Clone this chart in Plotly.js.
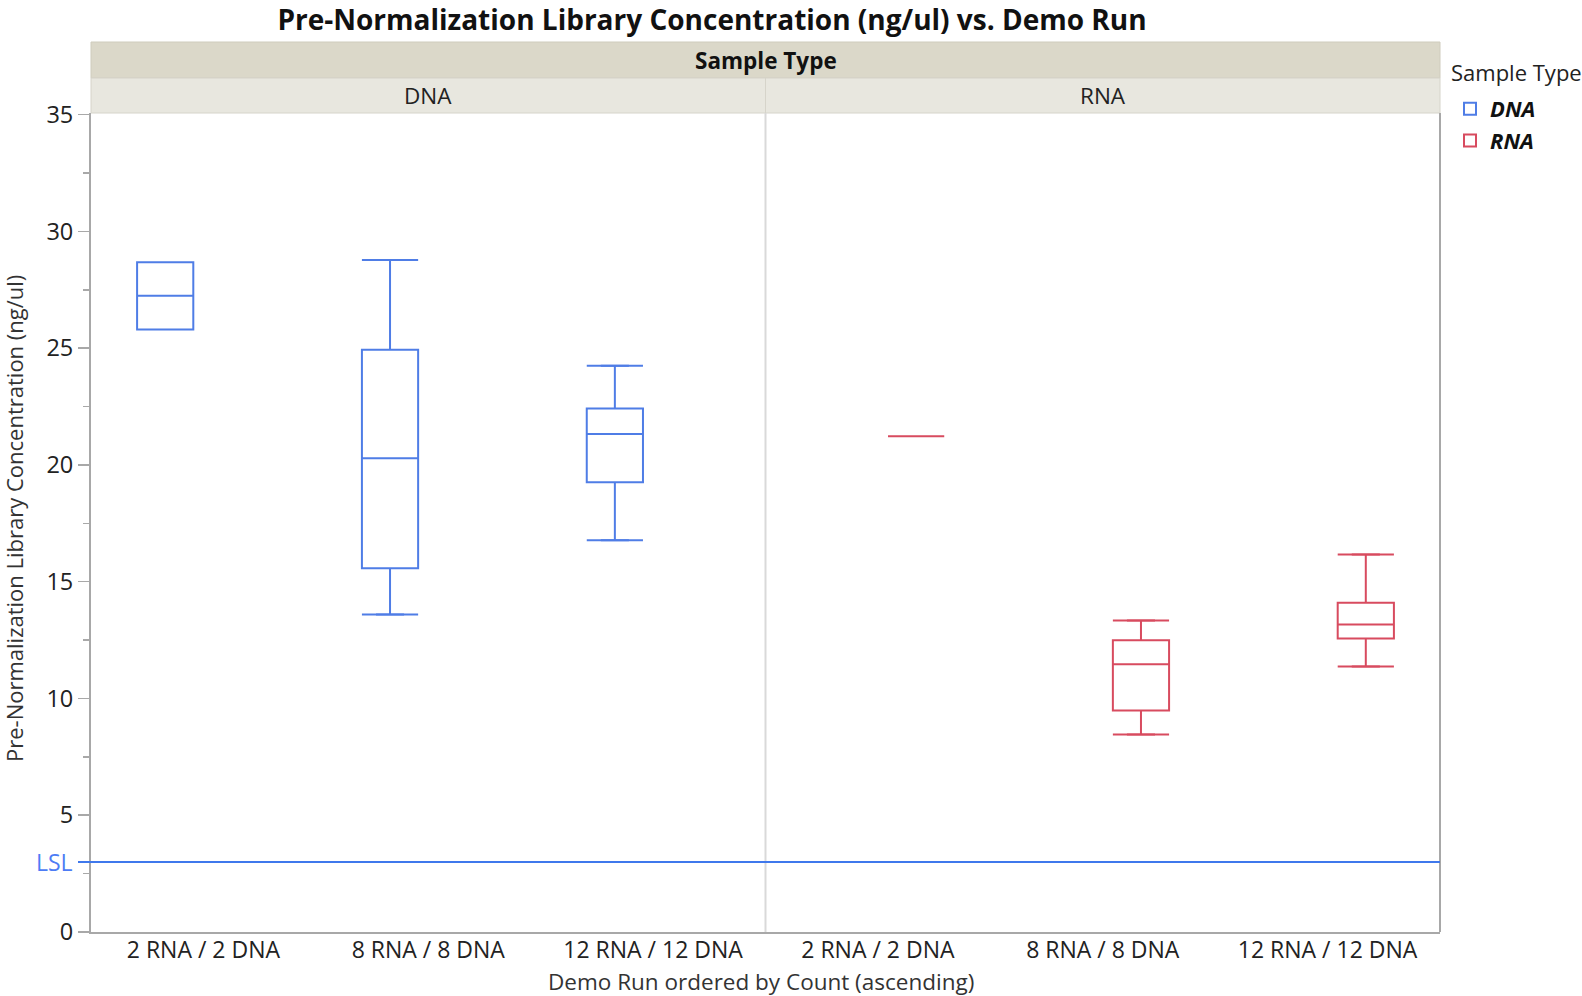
<!DOCTYPE html>
<html><head><meta charset="utf-8">
<script src="https://cdn.plot.ly/plotly-3.0.1.min.js"></script>
<style>html,body{margin:0;padding:0;background:#fff;} #chart{width:1582px;height:996px;}</style>
</head><body><div id="chart"></div>
<script>
// ---- data ----
const runs = ["2 RNA / 2 DNA", "8 RNA / 8 DNA", "12 RNA / 12 DNA"];
const dnaLower  = [25.80, 13.60, 16.77];
const dnaQ1     = [25.80, 15.58, 19.26];
const dnaMedian = [27.24, 20.29, 21.32];
const dnaQ3     = [28.68, 24.93, 22.42];
const dnaUpper  = [28.68, 28.78, 24.25];
const rnaLower  = [21.23, 8.46, 11.37];
const rnaQ1     = [21.23, 9.49, 12.57];
const rnaMedian = [21.23, 11.46, 13.17];
const rnaQ3     = [21.23, 12.49, 14.10];
const rnaUpper  = [21.23, 13.34, 16.17];
const lsl = 3;
const yTickVals = [0, 5, 10, 15, 20, 25, 30, 35];

// ---- style constants ----
const blue = '#4f7de6', red = '#d84b5f';
const FONT = 'Open Sans, Noto Sans, sans-serif';
const BOXW = 0.25, DODGE = 0.17;
const W = 1582, H = 996, L = 91, R = 142, T = 113, B = 64;
const PW = W - L - R, PH = H - T - B;
const px2x = p => (p - L) / PW;
const px2y = p => (H - B - p) / PH;

function pos(off) { return runs.map((_, i) => i + off); }
function caps(xs, q1, q3, lo, up) {
  const cx = [], cy = [];
  xs.forEach((x, i) => {
    if (up[i] > q3[i]) { cx.push(x - BOXW / 2, x + BOXW / 2, null); cy.push(up[i], up[i], null); }
    if (lo[i] < q1[i]) { cx.push(x - BOXW / 2, x + BOXW / 2, null); cy.push(lo[i], lo[i], null); }
  });
  return {x: cx, y: cy};
}
const dnaX = pos(-DODGE), rnaX = pos(DODGE);
const dnaCaps = caps(dnaX, dnaQ1, dnaQ3, dnaLower, dnaUpper);
const rnaCaps = caps(rnaX, rnaQ1, rnaQ3, rnaLower, rnaUpper);

const traces = [
  {type: 'box', name: 'DNA', xaxis: 'x', yaxis: 'y', x: dnaX,
   q1: dnaQ1, median: dnaMedian, q3: dnaQ3, lowerfence: dnaLower, upperfence: dnaUpper,
   width: BOXW, boxpoints: false, line: {color: blue, width: 2}, fillcolor: 'rgba(255,255,255,0)',
   hoverinfo: 'y'},
  {type: 'box', name: 'RNA', xaxis: 'x2', yaxis: 'y', x: rnaX,
   q1: rnaQ1, median: rnaMedian, q3: rnaQ3, lowerfence: rnaLower, upperfence: rnaUpper,
   width: BOXW, boxpoints: false, line: {color: red, width: 2}, fillcolor: 'rgba(255,255,255,0)',
   hoverinfo: 'y'},
  {type: 'scatter', mode: 'lines', xaxis: 'x', yaxis: 'y', x: dnaCaps.x, y: dnaCaps.y,
   line: {color: blue, width: 2}, showlegend: false, hoverinfo: 'skip'},
  {type: 'scatter', mode: 'lines', xaxis: 'x2', yaxis: 'y', x: rnaCaps.x, y: rnaCaps.y,
   line: {color: red, width: 2}, showlegend: false, hoverinfo: 'skip'}
];

const axisLine = '#a8a8a8';
const xCommon = {
  range: [-0.5, 2.5], tickvals: runs.map((_, i) => i), ticktext: runs,
  showline: true, linecolor: axisLine, linewidth: 2, ticks: '', showgrid: false, zeroline: false,
  ticklabelstandoff: -4,
  tickfont: {family: FONT, size: 23, color: '#222'}, fixedrange: true
};

const stripTop = px2y(42), stripMid = px2y(78), stripBot = 1;
const shapes = [
  {type: 'rect', xref: 'paper', yref: 'paper', x0: 0, x1: 1, y0: stripMid, y1: stripTop,
   fillcolor: '#dbd8c9', line: {color: '#cfccbd', width: 1}, layer: 'below'},
  {type: 'rect', xref: 'paper', yref: 'paper', x0: 0, x1: 0.5, y0: stripBot, y1: stripMid,
   fillcolor: '#e8e7df', line: {color: '#d6d4ca', width: 1}, layer: 'below'},
  {type: 'rect', xref: 'paper', yref: 'paper', x0: 0.5, x1: 1, y0: stripBot, y1: stripMid,
   fillcolor: '#e8e7df', line: {color: '#d6d4ca', width: 1}, layer: 'below'},
  {type: 'line', xref: 'paper', yref: 'paper', x0: 0.5, x1: 0.5, y0: 0, y1: 1,
   line: {color: '#d9d9d9', width: 2}},
  {type: 'line', xref: 'paper', yref: 'paper', x0: 1, x1: 1, y0: 0, y1: 1,
   line: {color: axisLine, width: 2}},
  {type: 'line', xref: 'paper', yref: 'y', x0: px2x(78), x1: 1, y0: lsl, y1: lsl,
   line: {color: '#3f78ec', width: 2}}
];

const annotations = [
  {text: '<b>Sample Type</b>', xref: 'paper', yref: 'paper', x: 0.5, y: (stripTop + stripMid) / 2,
   showarrow: false, font: {family: FONT, size: 22.5, color: '#111'}, xanchor: 'center', yanchor: 'middle'},
  {text: 'DNA', xref: 'paper', yref: 'paper', x: 0.25, y: (stripMid + stripBot) / 2,
   showarrow: false, font: {family: FONT, size: 22.5, color: '#222'}, xanchor: 'center', yanchor: 'middle'},
  {text: 'RNA', xref: 'paper', yref: 'paper', x: 0.75, y: (stripMid + stripBot) / 2,
   showarrow: false, font: {family: FONT, size: 22.5, color: '#222'}, xanchor: 'center', yanchor: 'middle'},
  {text: 'LSL', xref: 'paper', yref: 'y', x: px2x(75), y: lsl, xanchor: 'right', yanchor: 'middle',
   showarrow: false, font: {family: FONT, size: 23, color: '#4d7cf5'}},
  {text: 'Pre-Normalization Library Concentration (ng/ul)', xref: 'paper', yref: 'paper',
   x: px2x(14), y: px2y(519), textangle: -90, xanchor: 'center', yanchor: 'middle',
   showarrow: false, font: {family: FONT, size: 22, color: '#333'}},
  {text: 'Demo Run ordered by Count (ascending)', xref: 'paper', yref: 'paper',
   x: px2x(761), y: px2y(981), xanchor: 'center', yanchor: 'middle',
   showarrow: false, font: {family: FONT, size: 22.5, color: '#333'}},
  {text: 'Sample Type', xref: 'paper', yref: 'paper', x: px2x(1449), y: px2y(72),
   xanchor: 'left', yanchor: 'middle', showarrow: false,
   font: {family: FONT, size: 22, color: '#222'}}
];

const layout = {
  width: W, height: H, margin: {l: L, r: R, t: T, b: B, autoexpand: false},
  paper_bgcolor: '#fff', plot_bgcolor: '#fff',
  title: {text: '<b>Pre-Normalization Library Concentration (ng/ul) vs. Demo Run</b>',
          xref: 'container', yref: 'container', x: 712 / W, xanchor: 'center',
          y: 1 - 20 / H, yanchor: 'middle', font: {family: FONT, size: 28, color: '#111'}},
  xaxis: Object.assign({}, xCommon, {domain: [0, 0.5], anchor: 'y', automargin: false}),
  xaxis2: Object.assign({}, xCommon, {domain: [0.5, 1], anchor: 'y', automargin: false}),
  yaxis: {range: [0, 35.07], tickvals: yTickVals, showline: true, linecolor: axisLine, linewidth: 2,
          ticks: 'outside', ticklen: 11, tickwidth: 1.5, tickcolor: axisLine, automargin: false,
          minor: {dtick: 2.5, ticks: 'outside', ticklen: 6, tickwidth: 1.5, tickcolor: axisLine},
          showgrid: false, zeroline: false, fixedrange: true,
          tickfont: {family: FONT, size: 23.5, color: '#222'}},
  showlegend: true,
  legend: {x: 1 + 10 / PW, xanchor: 'left', y: px2y(88), yanchor: 'top',
           font: {family: FONT, size: 22, color: '#111', weight: 'bold', style: 'italic'},
           tracegroupgap: 0, itemwidth: 30, bgcolor: 'rgba(0,0,0,0)'},
  shapes: shapes, annotations: annotations, boxmode: 'overlay'
};

Plotly.newPlot('chart', traces, layout, {displayModeBar: false, staticPlot: true});
</script>
</body></html>
